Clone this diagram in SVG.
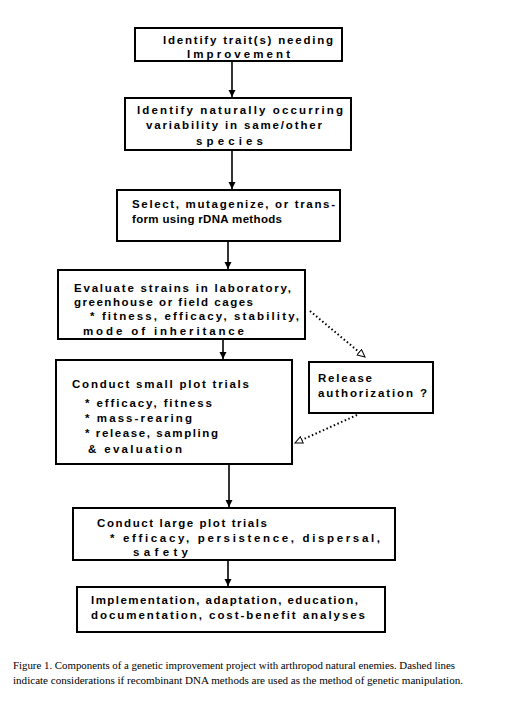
<svg xmlns="http://www.w3.org/2000/svg" width="515" height="718" viewBox="0 0 515 718">
<style>
.box{fill:#fff;stroke:#000;stroke-width:2}
.t{font-family:"Liberation Sans",Arial,sans-serif;font-weight:bold;font-size:11.5px;fill:#000}
.cap{font-family:"Liberation Serif","Times New Roman",serif;font-size:9.6px;fill:#000}
.ln{stroke:#000;stroke-width:1.6;fill:none}
.dl{stroke:#000;stroke-width:2;fill:none;stroke-dasharray:1.5 2.5}
</style>
<defs>
<marker id="ah" markerWidth="8" markerHeight="8" refX="7" refY="4" orient="auto" markerUnits="userSpaceOnUse"><path d="M0,0.5 L7,4 L0,7.5 Z" fill="#000"/></marker>
<marker id="oh" markerWidth="10" markerHeight="10" refX="8" refY="4" orient="auto" markerUnits="userSpaceOnUse"><path d="M0.5,0.5 L8,4 L0.5,7.5 Z" fill="#fff" stroke="#000" stroke-width="1"/></marker>
</defs>
<rect width="515" height="718" fill="#fff"/>
<g id="connectors">
<line class="ln" x1="232" y1="61" x2="232" y2="97" marker-end="url(#ah)"/>
<line class="ln" x1="232" y1="150" x2="232" y2="189" marker-end="url(#ah)"/>
<line class="ln" x1="228" y1="241" x2="228" y2="269" marker-end="url(#ah)"/>
<line class="ln" x1="223" y1="339" x2="223" y2="359" marker-end="url(#ah)"/>
<line class="ln" x1="229" y1="464" x2="229" y2="507" marker-end="url(#ah)"/>
<line class="ln" x1="228" y1="560" x2="228" y2="586" marker-end="url(#ah)"/>
<line class="dl" x1="310" y1="311" x2="365" y2="357" marker-end="url(#oh)"/>
<line class="dl" x1="357" y1="415" x2="295" y2="443" marker-end="url(#oh)"/>
</g>
<g id="n1">
<rect class="box" x="135" y="28" width="207" height="33"/>
<text class="t" x="163" y="44" textLength="170" lengthAdjust="spacing">Identify trait(s) needing</text>
<text class="t" x="187" y="58" textLength="103" lengthAdjust="spacing">Improvement</text>
</g>
<g id="n2">
<rect class="box" x="125" y="98" width="226" height="52"/>
<text class="t" x="137" y="114" textLength="206" lengthAdjust="spacing">Identify naturally occurring</text>
<text class="t" x="146" y="129" textLength="176" lengthAdjust="spacing">variability in same/other</text>
<text class="t" x="196" y="145" textLength="67" lengthAdjust="spacing">species</text>
</g>
<g id="n3">
<rect class="box" x="117" y="190" width="223" height="51"/>
<text class="t" x="132" y="208" textLength="203" lengthAdjust="spacing">Select, mutagenize, or trans-</text>
<text class="t" x="132" y="223" textLength="150" lengthAdjust="spacing">form using rDNA methods</text>
</g>
<g id="n4">
<rect class="box" x="58" y="270" width="247" height="69"/>
<text class="t" x="74" y="292" textLength="217" lengthAdjust="spacing">Evaluate strains in laboratory,</text>
<text class="t" x="74" y="306" textLength="179" lengthAdjust="spacing">greenhouse or field cages</text>
<text class="t" x="90" y="320" textLength="209" lengthAdjust="spacing">* fitness, efficacy, stability,</text>
<text class="t" x="83" y="335" textLength="161" lengthAdjust="spacing">mode of inheritance</text>
</g>
<g id="n5">
<rect class="box" x="56" y="360" width="236" height="104"/>
<text class="t" x="72" y="388" textLength="177" lengthAdjust="spacing">Conduct small plot trials</text>
<text class="t" x="85" y="407" textLength="127" lengthAdjust="spacing">* efficacy, fitness</text>
<text class="t" x="85" y="422" textLength="107" lengthAdjust="spacing">* mass-rearing</text>
<text class="t" x="85" y="437" textLength="133" lengthAdjust="spacing">* release, sampling</text>
<text class="t" x="88" y="453" textLength="94" lengthAdjust="spacing">&amp; evaluation</text>
</g>
<g id="n_release">
<rect class="box" x="309" y="362" width="124" height="51"/>
<text class="t" x="318" y="382" textLength="54" lengthAdjust="spacing">Release</text>
<text class="t" x="318" y="397" textLength="109" lengthAdjust="spacing">authorization ?</text>
</g>
<g id="n6">
<rect class="box" x="73" y="508" width="322" height="52"/>
<text class="t" x="97" y="527" textLength="170" lengthAdjust="spacing">Conduct large plot trials</text>
<text class="t" x="110" y="542" textLength="270" lengthAdjust="spacing">* efficacy, persistence, dispersal,</text>
<text class="t" x="133" y="556" textLength="55" lengthAdjust="spacing">safety</text>
</g>
<g id="n7">
<rect class="box" x="77" y="587" width="308" height="45"/>
<text class="t" x="91" y="604" textLength="267" lengthAdjust="spacing">Implementation, adaptation, education,</text>
<text class="t" x="91" y="619" textLength="274" lengthAdjust="spacing">documentation, cost-benefit analyses</text>
</g>
<g id="caption">
<text class="cap" x="13" y="669" textLength="442" lengthAdjust="spacingAndGlyphs">Figure 1. Components of a genetic improvement project with arthropod natural enemies. Dashed lines</text>
<text class="cap" x="13" y="684" textLength="450" lengthAdjust="spacingAndGlyphs">indicate considerations if recombinant DNA methods are used as the method of genetic manipulation.</text>
</g>
</svg>
